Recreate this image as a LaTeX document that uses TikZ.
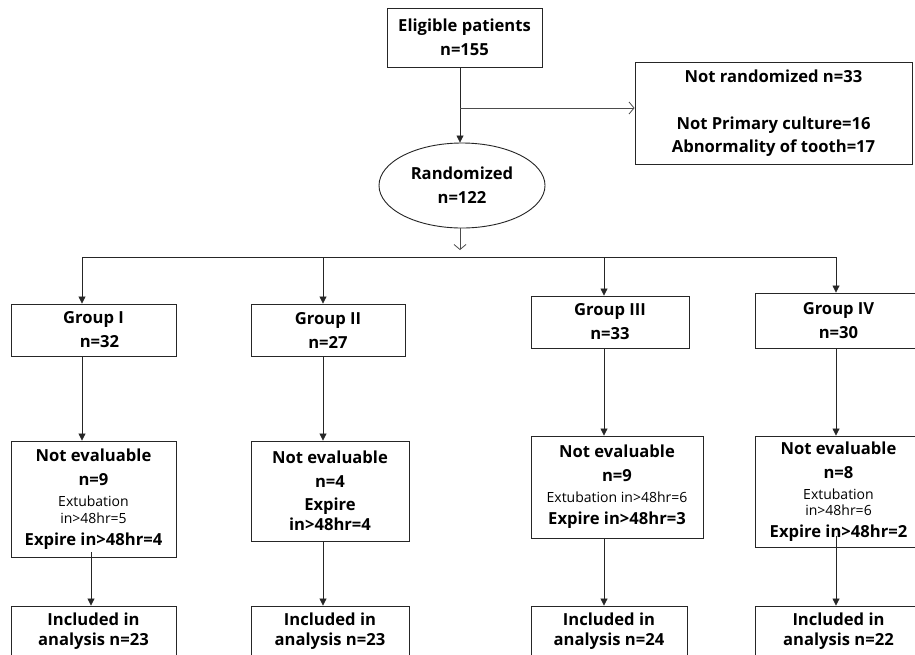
\documentclass[tikz,border=0pt]{standalone}
\usepackage{fontspec}
\setmainfont{Open Sans}
\usetikzlibrary{arrows.meta,shapes.geometric}
\newcommand\smallfnt{\mdseries\fontsize{14}{17}\selectfont}
\begin{document}
\begin{tikzpicture}[x=1pt,y=-1pt,
  box/.style={draw=black!85,line width=0.9pt,inner sep=0pt,align=center,
    font=\bfseries\fontsize{16.6}{24}\selectfont},
  arr/.style={draw=black!85,line width=0.8pt,-{Triangle[length=7pt,width=7pt]}},
  oarr/.style={draw=black!70,line width=0.8pt,-{Straight Barb[length=5pt,width=12pt]}},
  ln/.style={draw=black!85,line width=0.8pt}]
\useasboundingbox (0,0) rectangle (915,654);
\clip (0,0) rectangle (915,654);
\fill[white] (0,0) rectangle (915,654);

% top
\node[box,minimum width=155pt,minimum height=59pt] (elig) at (464.5,37.5) {Eligible patients\\n=155};
\node[box,minimum width=277pt,minimum height=102pt] (nr) at (773.5,113)
  {Not randomized n=33\\[23pt]Not Primary culture=16\\[-1pt]Abnormality of tooth=17};
\node[box,ellipse,minimum width=166pt,minimum height=85pt] (rand) at (462,185.5) {Randomized\\n=122};

% groups
\node[box,minimum width=165pt,minimum height=52pt] (g1) at (93.5,330) {Group I\\\hspace*{12pt}n=32};
\node[box,minimum width=154pt,minimum height=52pt] (g2) at (328,330) {Group II\\n=27};
\node[box,minimum width=158pt,minimum height=52pt] (g3) at (610,322) {Group III\\n=33};
\node[box,minimum width=167pt,minimum height=55pt] (g4) at (838.5,320.5) {Group IV\\n=30};

% not evaluable
\node[box,minimum width=165pt,minimum height=116pt] (ne1) at (93.5,499)
  {Not evaluable\\n=9\\[-3pt]{\smallfnt Extubation}\\[-7pt]{\smallfnt in>48hr=5}\\[-2pt]Expire in>48hr=4};
\node[box,minimum width=158pt,minimum height=100pt] (ne2) at (330,491)
  {Not evaluable\\n=4\\[-1pt]Expire\\[-4pt]in>48hr=4};
\node[box,minimum width=172pt,minimum height=102pt] (ne3) at (617,487)
  {Not evaluable\\n=9\\[-3pt]{\smallfnt Extubation in>48hr=6}\\[-2pt]Expire in>48hr=3};
\node[box,minimum width=167pt,minimum height=111pt] (ne4) at (838.5,491.5)
  {Not evaluable\\n=8\\[-3pt]{\smallfnt Extubation}\\[-8pt]{\smallfnt in>48hr=6}\\[-2pt]Expire in>48hr=2};

% included
\node[box,minimum width=165pt,minimum height=50pt] (in1) at (93.5,631) {Included in\\[-4pt]analysis n=23};
\node[box,minimum width=158pt,minimum height=50pt] (in2) at (330,631) {Included in\\[-4pt]analysis n=23};
\node[box,minimum width=156pt,minimum height=50pt] (in3) at (609,631) {Included in\\[-4pt]analysis n=24};
\node[box,minimum width=167pt,minimum height=50pt] (in4) at (838.5,631) {Included in\\[-4pt]analysis n=22};

% connectors top
\coordinate (x0) at (460,0);
\coordinate (br) at (460,108);
\draw[arr] (elig.south -| x0) -- (rand.north -| x0);
\draw[oarr] (br) -- (br -| nr.west);
\coordinate (rb) at (460,250);
\draw[oarr] (rand.south -| x0) -- (rb);

\coordinate (b1) at (82,257);
\coordinate (b2) at (323,257);
\coordinate (b3) at (604,257);
\coordinate (b4) at (836,257);
\draw[ln] (b1) -- (b4);
\draw[arr] (b1) -- (b1 |- g1.north);
\draw[arr] (b2) -- (b2 |- g2.north);
\draw[arr] (b3) -- (b3 |- g3.north);
\draw[arr] (b4) -- (b4 |- g4.north);

% groups to not evaluable
\draw[arr] (b1 |- g1.south) -- (b1 |- ne1.north);
\draw[arr] (b2 |- g2.south) -- (b2 |- ne2.north);
\draw[arr] (b3 |- g3.south) -- (b3 |- ne3.north);
\draw[arr] (b4 |- g4.south) -- (b4 |- ne4.north);

% not evaluable to included
\coordinate (c1) at (91,552);
\coordinate (c4) at (836,536);
\draw[arr] (c1) -- (c1 |- in1.north);
\draw[arr] (b2 |- ne2.south) -- (b2 |- in2.north);
\draw[arr] (b3 |- ne3.south) -- (b3 |- in3.north);
\draw[arr] (c4) -- (c4 |- in4.north);
\end{tikzpicture}
\end{document}
